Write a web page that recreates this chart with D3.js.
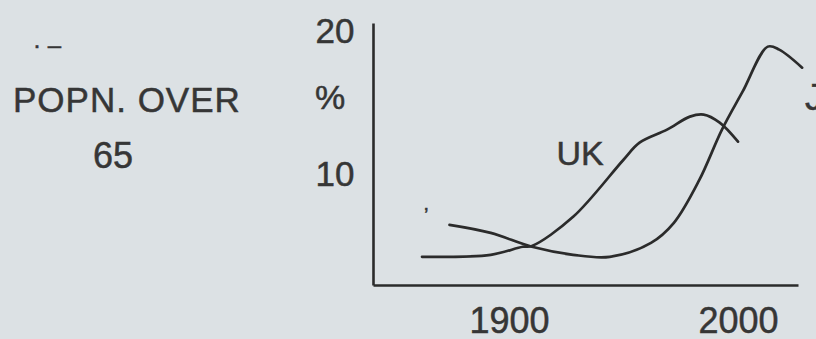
<!DOCTYPE html>
<html>
<head>
<meta charset="utf-8">
<script src="https://cdn.jsdelivr.net/npm/d3@7"></script>
<style>
  html, body { margin: 0; padding: 0; background: #dce1e4; }
  svg { display: block; }
  text { font-family: "Liberation Sans", Arial, sans-serif; fill: #363636; stroke: #363636; stroke-width: 0.5px; }
</style>
</head>
<body>
<div id="chart-area"></div>
<script>
// data (share of population over 65, %)
const ukYears = [1862, 1892, 1906, 1910, 1928, 1950, 1957, 1969, 1979, 1985, 1992, 2000]
const ukValues = [4.27, 4.41, 4.97, 5.03, 7.06, 11.05, 12.24, 13.15, 14.06, 14.2, 13.64, 12.31]

const jYears = [1874, 1892, 1910, 1928, 1944, 1962, 1972, 1983, 1993, 2002, 2013, 2018, 2028]
const jValues = [6.5, 5.94, 4.97, 4.41, 4.27, 5.24, 6.64, 9.6, 13.15, 15.8, 18.95, 18.74, 17.48]

const xTicks = [1900, 2000]
const yTicks = [10, 20]

const WIDTH = 816
const HEIGHT = 339

const svg = d3.select("#chart-area").append("svg")
  .attr("width", WIDTH)
  .attr("height", HEIGHT)

// hand drawn axes: the plot box
const x = d3.scaleLinear()
  .domain([1840.6, 2026.2])
  .range([373, 798])

const y = d3.scaleLinear()
  .domain([2.3, 20.6])
  .range([285, 23])

// Y axis
const yAxisCall = d3.axisLeft(y)
  .tickValues(yTicks)
  .tickSize(0)
  .tickSizeOuter(0)
  .tickPadding(38)
  .tickFormat(d => d)
g_y = svg.append("g")
  .attr("transform", `translate(${x.range()[0]}, 0)`)
  .call(yAxisCall)
g_y.select(".domain").attr("stroke", "#2b2b2b").attr("stroke-width", 2.6)
g_y.selectAll("text")
  .attr("font-size", "35px")
  .attr("text-anchor", "middle")
  .attr("fill", "#363636")

// X axis
const xAxisCall = d3.axisBottom(x)
  .tickValues(xTicks)
  .tickSize(0)
  .tickSizeOuter(0)
  .tickPadding(22)
  .tickFormat(d => d)
g_x = svg.append("g")
  .attr("transform", `translate(0, ${y.range()[0]})`)
  .call(xAxisCall)
g_x.select(".domain").attr("stroke", "#2b2b2b").attr("stroke-width", 2.6)
g_x.selectAll("text")
  .attr("font-size", "36px")
  .attr("fill", "#363636")

g_x.selectAll("text, .domain").attr("font-family", null)
g_y.selectAll("text").attr("font-family", null)

// the two curves
const line = d3.line()
  .x(d => x(d[0]))
  .y(d => y(d[1]))
  .curve(d3.curveCatmullRom.alpha(0.5))

const series = [
  { name: "UK", pts: d3.zip(ukYears, ukValues) },
  { name: "J", pts: d3.zip(jYears, jValues) }
]

svg.selectAll(".curve")
  .data(series)
  .enter().append("path")
    .attr("class", "curve")
    .attr("d", d => line(d.pts))
    .attr("fill", "none")
    .attr("stroke", "#2b2b2b")
    .attr("stroke-width", 2.7)
    .attr("stroke-linecap", "round")
    .attr("stroke-linejoin", "round")

// labels
svg.append("text")
  .attr("x", 580)
  .attr("y", 165)
  .attr("font-size", "34px")
  .attr("text-anchor", "middle")
  .text("UK")

svg.append("text")
  .attr("x", 805)
  .attr("y", 110)
  .attr("font-size", "36px")
  .text("J")

svg.append("text")
  .attr("x", 330)
  .attr("y", 109)
  .attr("font-size", "34px")
  .attr("text-anchor", "middle")
  .text("%")

// title block on the left
svg.append("text")
  .attr("x", 13)
  .attr("y", 112)
  .attr("font-size", "35px")
  .attr("letter-spacing", "1px")
  .text("POPN. OVER")

svg.append("text")
  .attr("x", 113)
  .attr("y", 168)
  .attr("font-size", "36px")
  .attr("text-anchor", "middle")
  .text("65")

// stray marks from the scan
svg.append("text")
  .attr("x", 33)
  .attr("y", 53)
  .attr("font-size", "24px")
  .attr("fill", "#4a4a4a")
  .attr("stroke", "none")
  .text("· –")

svg.append("text")
  .attr("x", 424)
  .attr("y", 222)
  .attr("font-size", "20px")
  .attr("fill", "#555")
  .attr("stroke", "none")
  .text("’")

</script>
</body>
</html>
